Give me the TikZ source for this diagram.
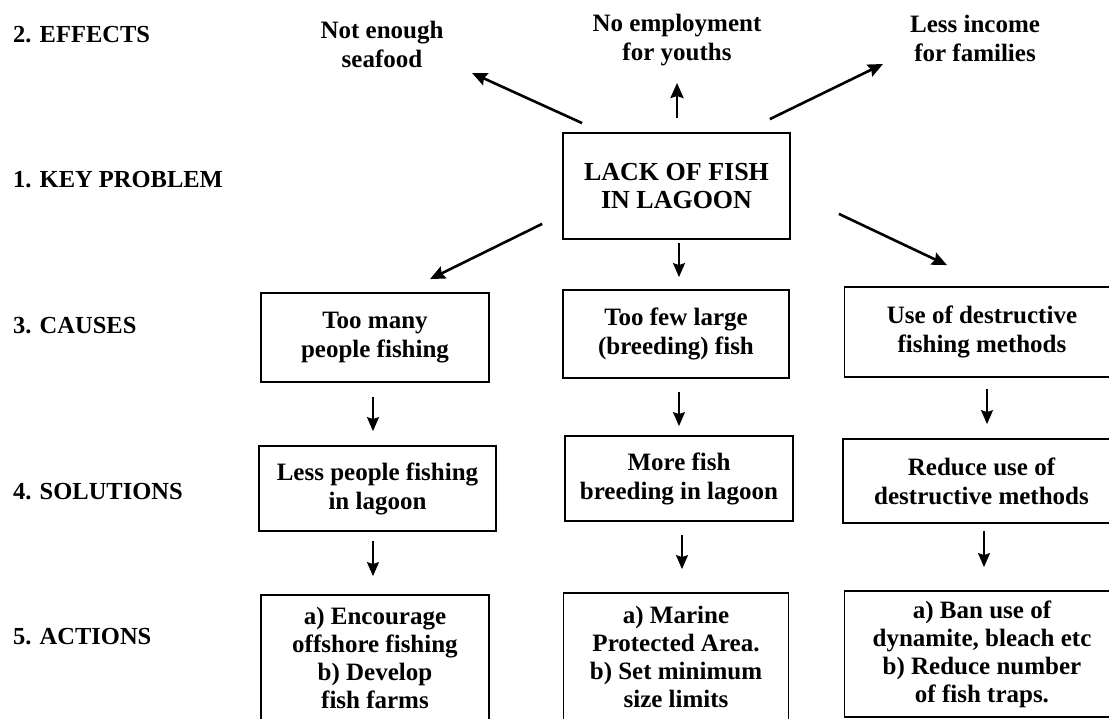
\documentclass[tikz,border=0pt]{standalone}
\usepackage{fontspec}
\setmainfont{Liberation Serif}
\usetikzlibrary{arrows.meta,calc}
\begin{document}
\begin{tikzpicture}[x=1pt,y=-1pt,
  box/.style={draw,line width=1.8pt,inner sep=0pt,align=center,font=\fontsize{25}{29}\selectfont\bfseries},
  actbox/.style={box,font=\fontsize{25}{28}\selectfont\bfseries},
  efftext/.style={inner sep=0pt,align=center,font=\fontsize{25}{29}\selectfont\bfseries},
  rowlabel/.style={anchor=base west,inner sep=0pt,font=\fontsize{24.5}{28}\selectfont\bfseries},
  darr/.style={line width=2.6pt,-{Stealth[length=15pt,width=13pt,inset=2pt]}},
  varr/.style={line width=1.8pt,-{Stealth[length=14pt,width=12pt,inset=2pt]}},
]
\clip (0,0) rectangle (1109,719);
\fill[white] (0,0) rectangle (1109,719);

% row labels
\node[rowlabel] (l2) at (13,43) {2. EFFECTS};
\node[rowlabel] (l1) at (13,188) {1. KEY PROBLEM};
\node[rowlabel] (l3) at (13,334) {3. CAUSES};
\node[rowlabel] (l4) at (13,499) {4. SOLUTIONS};
\node[rowlabel] (l5) at (13,644) {5. ACTIONS};

% effects
\node[efftext] (e1) at (382,44) {Not enough\\seafood};
\node[efftext] (e2) at (677,40) {No employment\\for youths};
\node[efftext] (e3) at (975,38) {Less income\\for families};

% key problem
\node[box,minimum width=227pt,minimum height=106pt,font=\fontsize{26}{28}\selectfont\bfseries] (key) at (676.5,186) {LACK OF FISH\\IN LAGOON};

% causes
\node[box,minimum width=228pt,minimum height=89pt] (c1) at (375,337.5) {Too many\\people fishing};
\node[box,minimum width=226pt,minimum height=88pt] (c2) at (676,334) {Too few large\\(breeding) fish};
\node[box,minimum width=275pt,minimum height=90pt] (c3) at (982,332) {Use of destructive\\fishing methods};

% solutions
\node[box,minimum width=237pt,minimum height=85pt] (s1) at (377.5,488.5) {Less people fishing\\in lagoon};
\node[box,minimum width=228pt,minimum height=85pt] (s2) at (679,478.5) {More fish\\breeding in lagoon};
\node[box,minimum width=277pt,minimum height=84pt] (s3) at (981.5,481) {Reduce use of\\destructive methods};

% actions
\node[actbox,minimum width=228pt,minimum height=125pt] (a1) at (375,657.5) {a) Encourage\\offshore fishing\\b) Develop\\fish farms};
\node[actbox,minimum width=225pt,minimum height=127pt] (a2) at (676,656.5) {a) Marine\\Protected Area.\\b) Set minimum\\size limits};
\node[actbox,minimum width=275pt,minimum height=126pt] (a3) at (982,654) {a) Ban use of\\dynamite, bleach etc\\b) Reduce number\\of fish traps.};

% effect arrows
\draw[darr] ($(key.north west)+(20,-9)$) -- ($(e1)+(90,29)$);
\draw[darr] ($(key.north)+(0.5,-14)$) -- ($(e2)+(0,43)$);
\draw[darr] ($(key.north east)+(-21,-13)$) -- ($(e3)+(-92,26)$);

% cause arrows
\draw[darr] ($(key.south west)+(-20,-16)$) -- ($(c1.north)+(55,-13)$);
\draw[darr] ($(key.south east)+(48,-26)$) -- ($(c3.north)+(-35,-21)$);
\draw[varr,shorten <=3pt,shorten >=12pt] ($(key.south)+(2.5,0)$) -- ($(key.south |- c2.north)+(2.5,0)$);

% causes -> solutions
\draw[varr,shorten <=14pt,shorten >=14pt] ($(c1.south)+(-2,0)$) -- ($(c1.south |- s1.north)+(-2,0)$);
\draw[varr,shorten <=13pt,shorten >=9pt] ($(c2.south)+(3,0)$) -- ($(c2.south |- s2.north)+(3,0)$);
\draw[varr,shorten <=11pt,shorten >=14pt] ($(c3.south)+(5,0)$) -- ($(c3.south |- s3.north)+(5,0)$);

% solutions -> actions
\draw[varr,shorten <=9pt,shorten >=18pt] ($(s1.south)+(-4.5,0)$) -- ($(s1.south |- a1.north)+(-4.5,0)$);
\draw[varr,shorten <=13pt,shorten >=23pt] ($(s2.south)+(3,0)$) -- ($(s2.south |- a2.north)+(3,0)$);
\draw[varr,shorten <=7pt,shorten >=23pt] ($(s3.south)+(2.5,0)$) -- ($(s3.south |- a3.north)+(2.5,0)$);
\end{tikzpicture}
\end{document}
